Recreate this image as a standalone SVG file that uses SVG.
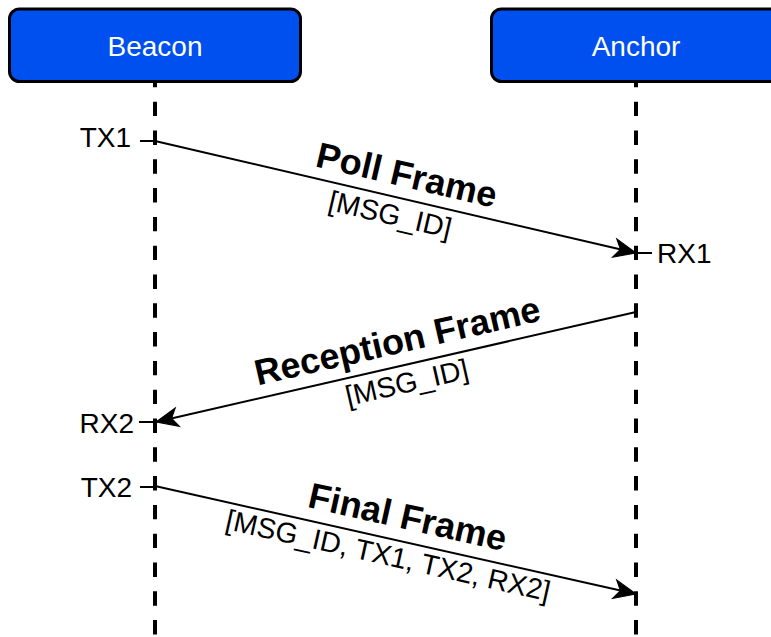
<svg xmlns="http://www.w3.org/2000/svg" width="771" height="637" viewBox="0 0 771 637">
  <style>
    .box { fill: #0050ef; stroke: #000000; stroke-width: 3; }
    .title { font-family: "Liberation Sans", Arial, Helvetica, sans-serif; font-size: 28px; fill: #ffffff; text-anchor: middle; }
    .lifeline { stroke: #000000; stroke-width: 4; stroke-dasharray: 14.4 14.4; fill: none; }
    .msg { stroke: #000000; stroke-width: 2; fill: none; marker-end: url(#arrow); }
    .tick { stroke: #000000; stroke-width: 2; }
    .lbl { font-family: "Liberation Sans", Arial, Helvetica, sans-serif; font-size: 28px; fill: #000000; }
    .frame { font-family: "Liberation Sans", Arial, Helvetica, sans-serif; font-size: 36px; font-weight: bold; fill: #000000; text-anchor: middle; }
    .fields { font-family: "Liberation Sans", Arial, Helvetica, sans-serif; font-size: 28.5px; fill: #000000; text-anchor: middle; }
  </style>
  <defs>
    <marker id="arrow" markerUnits="userSpaceOnUse" viewBox="-24 -12 26 24" refX="0" refY="0" markerWidth="26" markerHeight="24" orient="auto">
      <path d="M0,0 L-22,-9.5 L-16,0 L-22,9.5 Z" fill="#000000" stroke="#000000" stroke-width="1"/>
    </marker>
  </defs>

  <!-- lifelines -->
  <g id="lifelines">
    <line class="lifeline" x1="155" y1="72.9" x2="155" y2="640"/>
    <line class="lifeline" x1="636" y1="72.9" x2="636" y2="640"/>
  </g>

  <!-- participants -->
  <g id="beacon">
    <rect class="box" x="9.5" y="9" width="291" height="72.5" rx="10" ry="10"/>
    <text class="title" x="155" y="55.5">Beacon</text>
  </g>
  <g id="anchor">
    <rect class="box" x="491.5" y="9" width="291" height="72.5" rx="10" ry="10"/>
    <text class="title" x="636" y="55.5">Anchor</text>
  </g>

  <!-- timestamp markers -->
  <g id="timestamps">
    <line class="tick" x1="140" y1="141" x2="155" y2="141"/>
    <text class="lbl" x="131" y="147" text-anchor="end">TX1</text>
    <line class="tick" x1="636" y1="253" x2="652" y2="253"/>
    <text class="lbl" x="657" y="263">RX1</text>
    <line class="tick" x1="139" y1="422" x2="155" y2="422"/>
    <text class="lbl" x="134" y="432.5" text-anchor="end">RX2</text>
    <line class="tick" x1="140" y1="487" x2="155" y2="487"/>
    <text class="lbl" x="132" y="497" text-anchor="end">TX2</text>
  </g>

  <!-- messages -->
  <g id="connectors">
    <line class="msg" x1="155" y1="141" x2="636" y2="253"/>
    <line class="msg" x1="636" y1="312" x2="156" y2="422"/>
    <line class="msg" x1="155" y1="486" x2="636" y2="594"/>
  </g>

  <!-- message labels -->
  <g id="poll-label">
    <text class="frame" transform="translate(404,187) rotate(13.1)">Poll Frame</text>
    <text class="fields" transform="translate(388,224) rotate(13.1)">[MSG_ID]</text>
  </g>
  <g id="reception-label">
    <text class="frame" transform="translate(400,353) rotate(-12.9)">Reception Frame</text>
    <text class="fields" transform="translate(409,392) rotate(-12.9)">[MSG_ID]</text>
  </g>
  <g id="final-label">
    <text class="frame" transform="translate(405,529) rotate(12.65)">Final Frame</text>
    <text class="fields" transform="translate(386,565) rotate(12.65)">[MSG_ID, TX1, TX2, RX2]</text>
  </g>
</svg>
